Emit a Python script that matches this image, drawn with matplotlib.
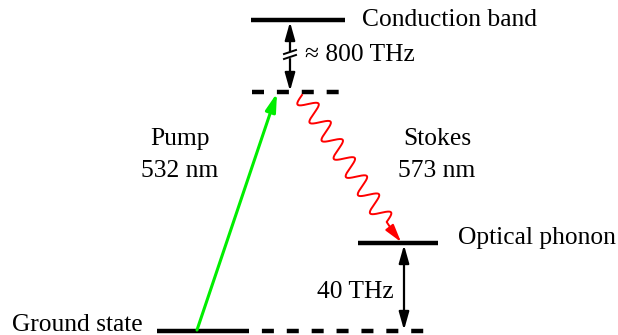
import numpy as np
import matplotlib
matplotlib.use("Agg")
import matplotlib.pyplot as plt

plt.rcParams['font.family'] = ['Liberation Serif', 'DejaVu Serif']

# Level data (diagram coordinates, y grows downward)
level_names = ["Conduction band", "Virtual level", "Optical phonon", "Ground state"]
level_y = [20, 92, 243, 331]
level_x0 = [251, 252, 358, 157]
level_x1 = [345, 345, 438, 237]
level_dashed = [False, True, False, False]

gap_labels = ["≈ 800 THz", "40 THz"]
pump_label = "Pump\n532 nm"
stokes_label = "Stokes\n573 nm"

fig = plt.figure(figsize=(6.18, 3.35), dpi=100)
ax = fig.add_axes([0, 0, 1, 1])
ax.set_xlim(0, 618)
ax.set_ylim(335, 0)
ax.axis('off')

FS = 18.4
LW = 3.2
DASH = (0, (2.7, 2.9))
HEAD2 = '<|-|>,head_length=0.6,head_width=0.17'
HEAD1 = '-|>,head_length=0.6,head_width=0.17'

for name, y, x0, x1, d in zip(level_names, level_y, level_x0, level_x1, level_dashed):
    ax.plot([x0, x1], [y, y], color='black', lw=LW,
            linestyle=DASH if d else '-', solid_capstyle='butt', dash_capstyle='butt')

# dashed extension of ground state
ax.plot([237, 432], [level_y[3], level_y[3]], color='black', lw=LW,
        linestyle=DASH, dash_capstyle='butt')

# labels
ax.text(362, level_y[0], level_names[0], fontsize=FS, va='center', ha='left')
ax.text(458, level_y[2] - 5, level_names[2], fontsize=FS, va='center', ha='left')
ax.text(143, level_y[3] - 6, level_names[3], fontsize=FS, va='center', ha='right')

# 800 THz double arrow
ax.annotate('', xy=(290, level_y[1] - 1), xytext=(290, level_y[0] + 2),
            arrowprops=dict(arrowstyle=HEAD2, color='black', lw=1.6,
                            mutation_scale=18, shrinkA=0, shrinkB=0))
ax.add_patch(plt.Rectangle((284, 52), 12, 5, color='white', zorder=3))
for yy in (52, 57):
    ax.plot([284, 296], [yy + 2, yy - 2], color='black', lw=1.4, zorder=4)
ax.text(305, 55, gap_labels[0], fontsize=FS, va='center', ha='left')

# 40 THz double arrow
ax.annotate('', xy=(404, level_y[3] - 1), xytext=(404, level_y[2] + 2),
            arrowprops=dict(arrowstyle=HEAD2, color='black', lw=1.6,
                            mutation_scale=18, shrinkA=0, shrinkB=0))
ax.text(394, 292, gap_labels[1], fontsize=FS, va='center', ha='right')

# Pump arrow (green)
ax.annotate('', xy=(277, level_y[1] + 1), xytext=(197, level_y[3] - 1),
            arrowprops=dict(arrowstyle=HEAD1, color='#00ee00', lw=2.2,
                            mutation_scale=18, shrinkA=0, shrinkB=0))
ax.text(180, 155, pump_label, fontsize=FS, va='center', ha='center', linespacing=1.6)

# Stokes wavy arrow (red)
p0 = np.array([302.0, 95.0])
p1 = np.array([394.0, 233.0])
vec = p1 - p0
L = np.hypot(*vec)
u = vec / L
nrm = np.array([-u[1], u[0]])
t = np.linspace(0, 1, 800)
nper = 7.0
wave_end = 0.92
amp = 9.0 * np.where(t < wave_end, 1.0, 0.0)
s = L * t
pts = p0[None, :] + s[:, None] * u[None, :] + (amp * np.sin(2 * np.pi * nper * t / wave_end))[:, None] * nrm[None, :]
ax.plot(pts[:, 0], pts[:, 1], color='red', lw=1.4)
ax.annotate('', xy=(401, 242), xytext=(p1[0], p1[1]),
            arrowprops=dict(arrowstyle=HEAD1, color='red', lw=1.4,
                            mutation_scale=18, shrinkA=0, shrinkB=0))
ax.text(437, 155, stokes_label, fontsize=FS, va='center', ha='center', linespacing=1.6)

fig.savefig('out.png', dpi=100)
